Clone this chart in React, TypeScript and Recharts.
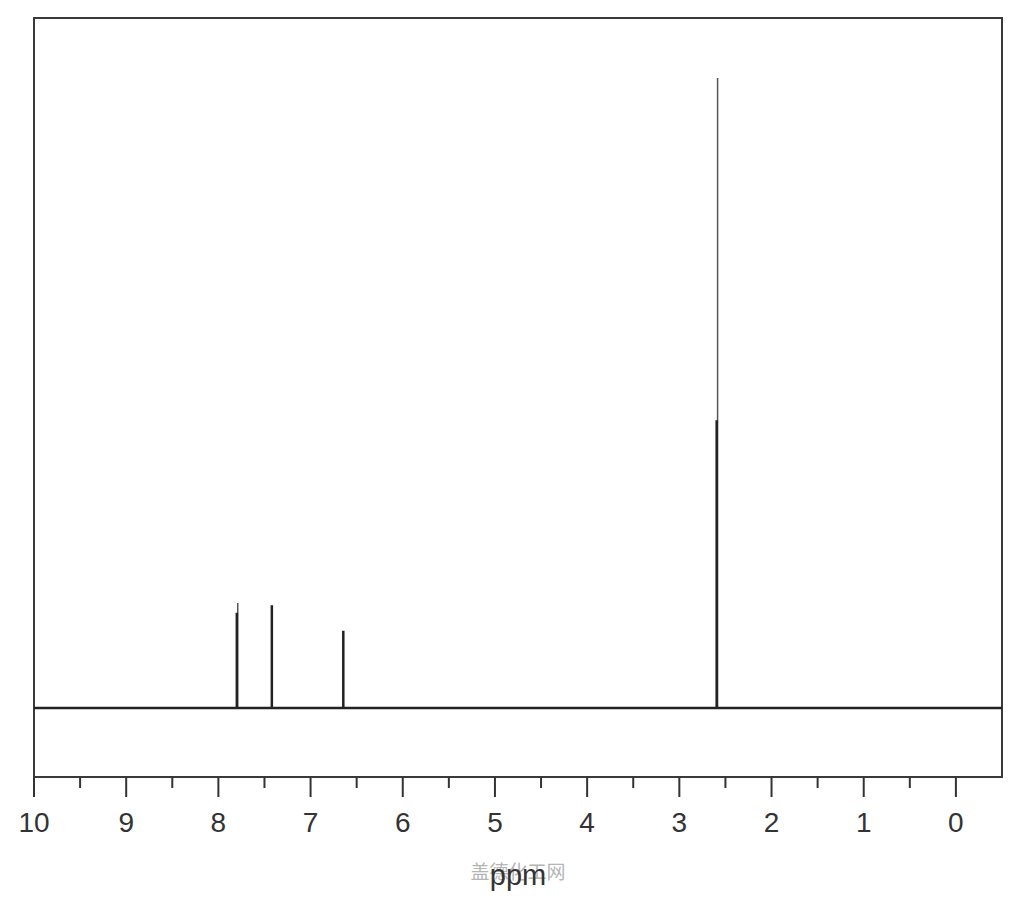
import React from 'react';
import { LineChart, Line, XAxis, YAxis, ReferenceArea, Label } from 'recharts';

// stick spectrum, chemical shift in ppm (axis reversed: 10 on the left)
const thinPeakPpm = [7.79, 2.585];
const thinPeakHeight = [15.2, 91.3];
const thickPeakPpm = [7.80, 7.42, 6.645, 2.595];
const thickPeakHeight = [13.8, 14.9, 11.2, 41.7];
const axisTicks = [10, 9.5, 9, 8.5, 8, 7.5, 7, 6.5, 6, 5.5, 5, 4.5, 4, 3.5, 3, 2.5, 2, 1.5, 1, 0.5, 0];
const xRange = [10, -0.5];
const yRange = [-10, 100];

const toSticks = (ppm: number[], height: number[]) => {
  const pts: { ppm: number; intensity: number }[] = [{ ppm: xRange[0], intensity: 0 }];
  ppm.forEach((p, i) => {
    pts.push({ ppm: p, intensity: 0 });
    pts.push({ ppm: p, intensity: height[i] });
    pts.push({ ppm: p, intensity: 0 });
  });
  pts.push({ ppm: xRange[1], intensity: 0 });
  return pts;
};

const thinData = toSticks(thinPeakPpm, thinPeakHeight);
const thickData = toSticks(thickPeakPpm, thickPeakHeight);

const AxisTick = (props: any) => {
  const { x, y, payload } = props;
  const major = Number.isInteger(payload.value);
  return (
    <g>
      <line x1={x} x2={x} y1={y} y2={y + (major ? 20 : 11)} stroke="#333" strokeWidth={2} />
      {major && (
        <text
          x={x}
          y={y + 55}
          textAnchor="middle"
          fill="#333"
          fontSize={28}
          fontFamily="Liberation Sans, Arial, sans-serif"
        >
          {payload.value}
        </text>
      )}
    </g>
  );
};

const App: React.FC = () => {
  return (
    <LineChart
      width={1008}
      height={884}
      margin={{ top: 10, right: 14, bottom: 15, left: 26 }}
    >
      <XAxis
        type="number"
        dataKey="ppm"
        domain={[xRange[1], xRange[0]]}
        reversed
        ticks={axisTicks}
        tick={<AxisTick />}
        tickLine={false}
        axisLine={false}
        tickSize={0}
        tickMargin={0}
        height={100}
        interval={0}
        allowDataOverflow
      >
        <Label
          value="盖德化工网"
          position="insideBottom"
          offset={-2}
          fill="#b5b5b5"
          fontSize={19}
          fontFamily="Noto Sans CJK SC"
        />
        <Label
          value="ppm"
          position="insideBottom"
          offset={-8}
          fill="#333"
          fontSize={29}
          fontFamily="Liberation Sans, Arial, sans-serif"
        />
      </XAxis>
      <YAxis type="number" dataKey="intensity" domain={yRange} hide allowDataOverflow />
      <ReferenceArea
        x1={xRange[0]}
        x2={xRange[1]}
        y1={yRange[0]}
        y2={yRange[1]}
        fill="none"
        stroke="#3a3a3a"
        strokeWidth={2}
      />
      <Line
        data={thinData}
        dataKey="intensity"
        type="linear"
        stroke="#555"
        strokeWidth={1.5}
        dot={false}
        isAnimationActive={false}
      />
      <Line
        data={thickData}
        dataKey="intensity"
        type="linear"
        stroke="#222"
        strokeWidth={2.5}
        dot={false}
        isAnimationActive={false}
      />
    </LineChart>
  );
};

export default App;
